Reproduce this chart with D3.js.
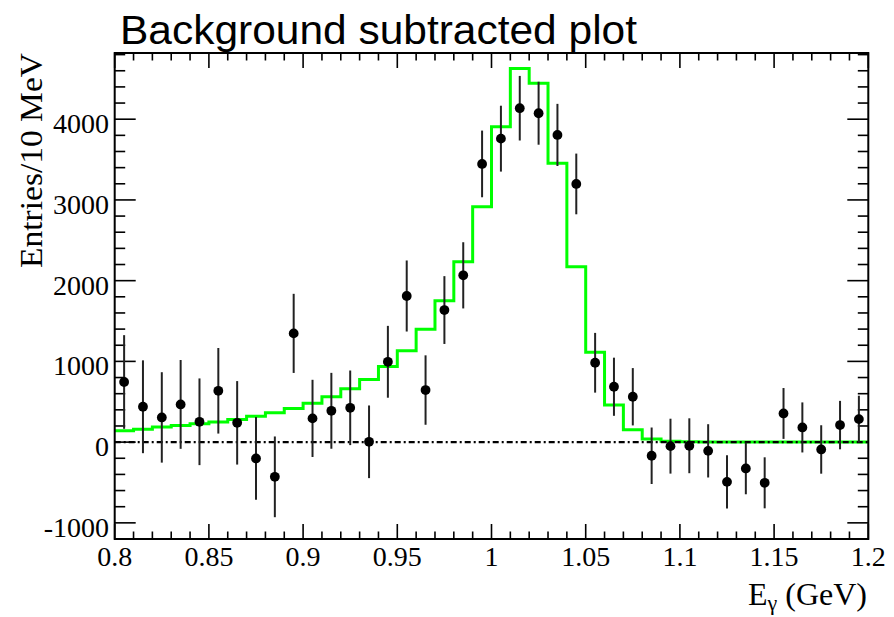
<!DOCTYPE html>
<html><head><meta charset="utf-8">
<script src="https://cdn.jsdelivr.net/npm/d3@7"></script>
<style>body{margin:0;background:#fff}svg{display:block}</style>
</head><body>
<svg id="c" width="894" height="617"></svg>
<script>
// Data points (bin centers), values and symmetric errors
const binCenters = [0.805,0.815,0.825,0.835,0.845,0.855,0.865,0.875,0.885,0.895,
  0.905,0.915,0.925,0.935,0.945,0.955,0.965,0.975,0.985,0.995,
  1.005,1.015,1.025,1.035,1.045,1.055,1.065,1.075,1.085,1.095,
  1.105,1.115,1.125,1.135,1.145,1.155,1.165,1.175,1.185,1.195];
const pointValues = [745,438,306,467,252,636,239,-202,-430,1347,
  294,388,425,4,995,1810,645,1636,2066,3446,
  3759,4136,4074,3805,3198,983,686,562,-169,-50,
  -45,-108,-492,-326,-504,355,182,-91,211,285];
const pointErrors = [580,575,560,550,537,530,517,512,500,490,
  478,470,462,450,445,440,430,420,410,413,
  408,400,390,385,376,370,360,355,350,340,
  340,330,330,320,316,315,310,300,300,290];
// Green histogram (bin lower edges and contents)
const histEdges = [0.80,0.81,0.82,0.83,0.84,0.85,0.86,0.87,0.88,0.89,
  0.90,0.91,0.92,0.93,0.94,0.95,0.96,0.97,0.98,0.99,
  1.00,1.01,1.02,1.03,1.04,1.05,1.06,1.07,1.08,1.09,
  1.10,1.11,1.12,1.13,1.14,1.15,1.16,1.17,1.18,1.19];
const histValues = [140,161,186,207,227,248,281,322,363,417,
  480,562,661,777,936,1132,1397,1751,2235,2917,
  3908,4627,4445,3454,2173,1112,459,153,40,12,
  5,3,2,1,1,0,0,0,0,0];
const binWidth = 0.01;
const xTickLabels = ["0.8","0.85","0.9","0.95","1","1.05","1.1","1.15","1.2"];
const yTickLabels = ["-1000","0","1000","2000","3000","4000"];
const titleText = "Background subtracted plot";
const yTitle = "Entries/10 MeV";

const svg = d3.select("#c");
const L = 114.7, R = 868.3, T = 53, B = 539;
const x = d3.scaleLinear().domain([0.8, 1.2]).range([L, R]);
const y = d3.scaleLinear().domain([-1200, 4820]).range([B, T]);
const serif = "'Liberation Serif','Times New Roman',serif";

// title
svg.append("text").attr("x", 120).attr("y", 44)
  .attr("font-family", "'Liberation Sans',Arial,sans-serif").attr("font-size", 41)
  .attr("textLength", 517).attr("lengthAdjust", "spacingAndGlyphs")
  .attr("fill", "#000").text(titleText);

// ticks
const g = svg.append("g").attr("stroke", "#000").attr("stroke-width", 1.6);
const xMajor = xTickLabels.map(Number);
const xMinor = d3.range(0, 41).map(i => 0.8 + i * 0.01);
const yMajor = yTickLabels.map(Number);
const yMinor = d3.range(-6, 25).map(i => i * 200);
xMinor.forEach(v => {
  const isMaj = xMajor.some(m => Math.abs(m - v) < 1e-9);
  const len = isMaj ? 15 : 7.5;
  g.append("line").attr("x1", x(v)).attr("x2", x(v)).attr("y1", B).attr("y2", B - len);
  g.append("line").attr("x1", x(v)).attr("x2", x(v)).attr("y1", T).attr("y2", T + len);
});
yMinor.forEach(v => {
  const isMaj = yMajor.includes(v);
  const len = isMaj ? 21 : 10.5;
  g.append("line").attr("x1", L).attr("x2", L + len).attr("y1", y(v)).attr("y2", y(v));
  g.append("line").attr("x1", R).attr("x2", R - len).attr("y1", y(v)).attr("y2", y(v));
});

// tick labels
xTickLabels.forEach(t => {
  svg.append("text").attr("x", x(+t)).attr("y", 565.5).attr("text-anchor", "middle")
    .attr("font-family", serif).attr("font-size", 28).text(t);
});
yTickLabels.forEach(t => {
  svg.append("text").attr("x", 109).attr("y", y(+t) + 14).attr("text-anchor", "end")
    .attr("font-family", serif).attr("font-size", 28).text(t);
});

// axis titles
svg.append("text").attr("transform", `translate(41.5,${T}) rotate(-90)`)
  .attr("text-anchor", "end").attr("font-family", serif).attr("font-size", 31)
  .attr("textLength", 215).attr("lengthAdjust", "spacingAndGlyphs").text(yTitle);
const xt = svg.append("text").attr("x", 867).attr("y", 605).attr("text-anchor", "end")
  .attr("font-family", serif).attr("font-size", 32);
xt.append("tspan").text("E");
xt.append("tspan").attr("font-size", 22).attr("dy", 5).text("γ");
xt.append("tspan").attr("dy", -5).text(" (GeV)");

// histogram
let pts = [];
histEdges.forEach((e, i) => { pts.push([e, histValues[i]]); pts.push([e + binWidth, histValues[i]]); });
svg.append("path").attr("d", d3.line().x(d => x(d[0])).y(d => y(d[1]))(pts))
  .attr("fill", "none").attr("stroke", "#00ff00").attr("stroke-width", 3);

// zero line
svg.append("line").attr("x1", x(0.8)).attr("x2", x(1.2)).attr("y1", y(0)).attr("y2", y(0))
  .attr("stroke", "#000").attr("stroke-width", 2.2).attr("stroke-dasharray", "6,3,2,3");

// error bars & points
const pg = svg.append("g");
binCenters.forEach((c, i) => {
  pg.append("line").attr("x1", x(c)).attr("x2", x(c))
    .attr("y1", y(pointValues[i] - pointErrors[i])).attr("y2", y(pointValues[i] + pointErrors[i]))
    .attr("stroke", "#222").attr("stroke-width", 2);
  pg.append("circle").attr("cx", x(c)).attr("cy", y(pointValues[i])).attr("r", 4.9).attr("fill", "#000");
});

// frame
svg.append("rect").attr("x", L).attr("y", T).attr("width", R - L).attr("height", B - T)
  .attr("fill", "none").attr("stroke", "#000").attr("stroke-width", 2);
</script>
</body></html>
